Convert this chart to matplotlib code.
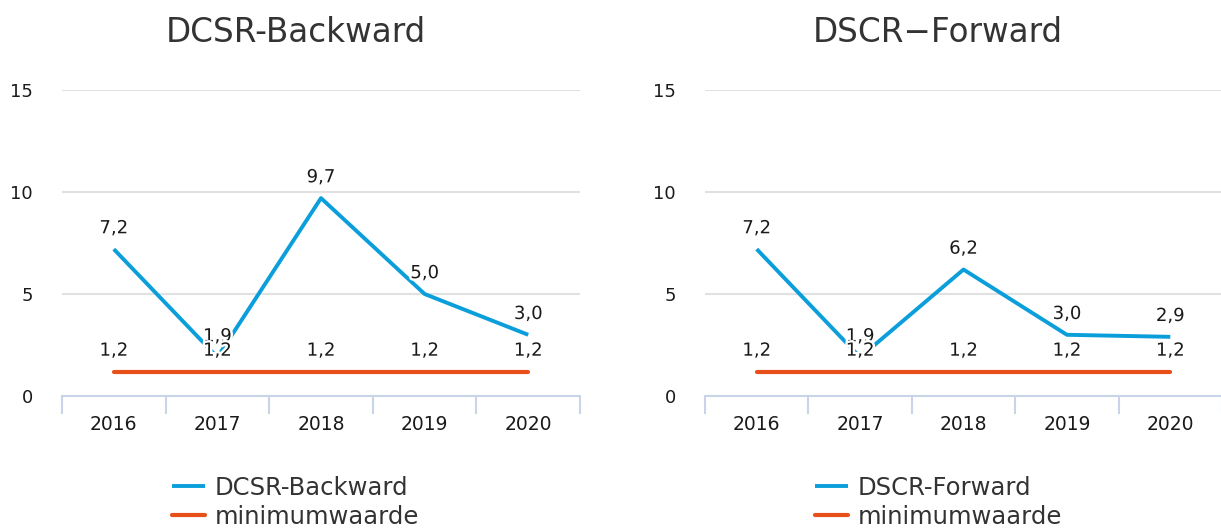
import matplotlib
matplotlib.use("Agg")
import matplotlib.pyplot as plt
import matplotlib.patheffects as pe
from matplotlib.ticker import FixedLocator

# Data
years = ["2016", "2017", "2018", "2019", "2020"]
dcsr_backward = [7.2, 1.9, 9.7, 5.0, 3.0]
dscr_forward = [7.2, 1.9, 6.2, 3.0, 2.9]
minimum = [1.2, 1.2, 1.2, 1.2, 1.2]
titles = ["DCSR-Backward", "DSCR\u2212Forward"]
series_names = ["DCSR-Backward", "DSCR-Forward"]
yticks = [0, 5, 10, 15]

BLUE = "#0A9EDB"
ORANGE = "#E8501A"
GRID = "#E1E1E1"
AXIS = "#C9D4E8"
TEXT = "#1a1a1a"

W, H = 1221, 528
plt.rcParams["font.family"] = ["DejaVu Sans"]
fig = plt.figure(figsize=(W / 100, H / 100), dpi=100)

halo = [pe.withStroke(linewidth=3.5, foreground="white")]


def fmt(v):
    return f"{v:.1f}".replace(".", ",")


def panel(x0, x1, title, tx, name, values, leg_x):
    ax = fig.add_axes([x0 / W, (H - 396) / H, (x1 - x0) / W, 306 / H])
    x = list(range(len(years)))
    ax.plot(x, values, color=BLUE, lw=2.8, solid_capstyle="butt", label=name, zorder=3)
    ax.plot(x, minimum, color=ORANGE, lw=3.0, solid_capstyle="round", label="minimumwaarde", zorder=3)
    for xi, v in zip(x, values):
        ax.annotate(fmt(v), (xi, v), xytext=(0, 15), textcoords="offset points",
                    ha="center", va="center", fontsize=13, color=TEXT,
                    path_effects=halo, zorder=5)
    for xi, v in zip(x, minimum):
        ax.annotate(fmt(v), (xi, v), xytext=(0, 15), textcoords="offset points",
                    ha="center", va="center", fontsize=13, color=TEXT,
                    path_effects=halo, zorder=5)

    ax.set_xlim(-0.5, len(years) - 0.5)
    ax.set_ylim(0, 15)
    ax.set_yticks(yticks)
    ax.set_yticklabels([str(t) for t in yticks])
    ax.set_xticks(x)
    ax.set_xticklabels(years)
    ax.xaxis.set_minor_locator(FixedLocator([i - 0.5 for i in range(len(years) + 1)]))
    ax.tick_params(axis="x", which="major", length=0, pad=13.5, labelsize=13.5, labelcolor=TEXT)
    ax.tick_params(axis="x", which="minor", length=13, width=1.5, color=AXIS, direction="out")
    ax.tick_params(axis="y", length=0, pad=21, labelsize=13, labelcolor=TEXT)
    ax.grid(axis="y", color=GRID, lw=1.5)
    ax.set_axisbelow(True)
    for s in ["top", "right", "left"]:
        ax.spines[s].set_visible(False)
    ax.spines["bottom"].set_color(AXIS)
    ax.spines["bottom"].set_linewidth(1.5)

    fig.text(tx / W, 1 - 33 / H, title, ha="center", va="center", fontsize=23.5, color="#333333")

    ax.legend(loc="upper left", bbox_to_anchor=(leg_x / W, 1 - 476 / H),
              bbox_transform=fig.transFigure, frameon=False, fontsize=17.5,
              handlelength=1.35, handletextpad=0.4, labelspacing=0.2,
              borderpad=0, borderaxespad=0, labelcolor="#333333")
    return ax


panel(62, 580, titles[0], 296, series_names[0], dcsr_backward, 172)
panel(705, 1222, titles[1], 938, series_names[1], dscr_forward, 815)

fig.savefig("out.png", dpi=100, facecolor="white")
